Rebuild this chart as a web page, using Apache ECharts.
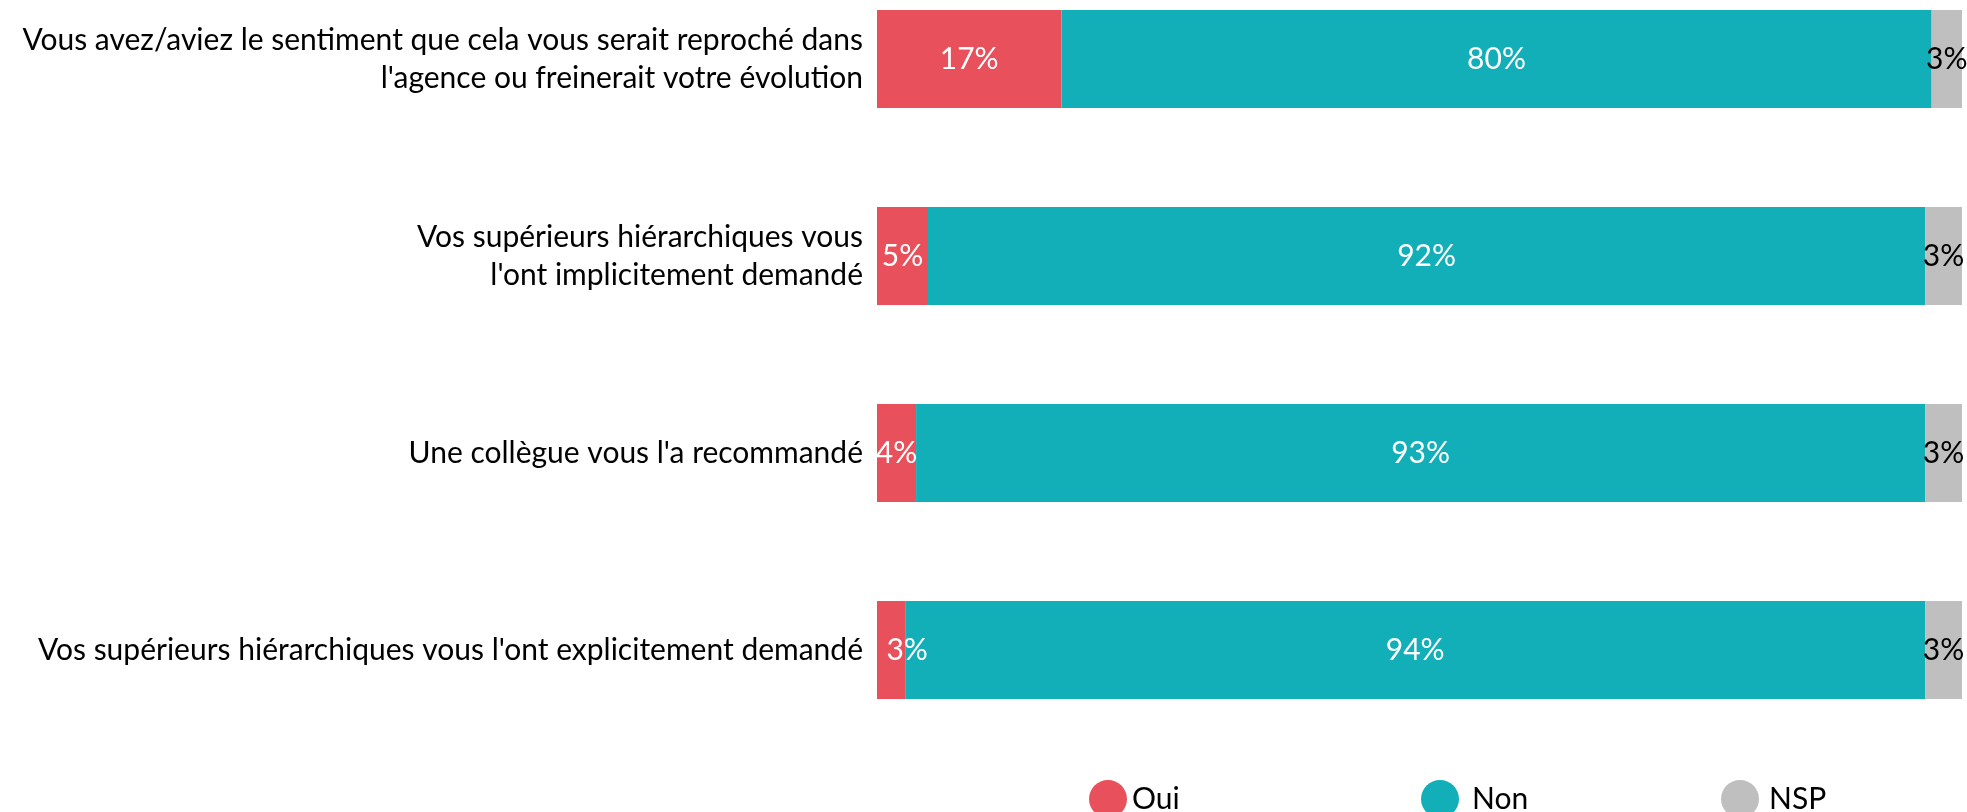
<!DOCTYPE html>
<html>
	<head>
		<meta charset="UTF-8">
		<title>Oui / Non / NSP</title>
		<style>
			html, body { margin: 0; padding: 0; background: #fff; }
			#main { width: 1967px; height: 812px; }
		</style>
	</head>
	<body>
		<div id="main"></div>
		<script src="https://cdn.jsdelivr.net/npm/echarts@6/dist/echarts.min.js"></script>
		<script type="text/javascript">
			// questions (top to bottom)
			var categories = [
				"Vous avez/aviez le sentiment que cela vous serait reproché dans\nl'agence ou freinerait votre évolution",
				"Vos supérieurs hiérarchiques vous\nl'ont implicitement demandé",
				"Une collègue vous l'a recommandé",
				"Vos supérieurs hiérarchiques vous l'ont explicitement demandé"
			];
			// parts in %
			var oui = [17.0, 4.7, 3.6, 2.6];
			var non = [80.2, 91.9, 93.0, 94.0];
			var nsp = [2.8, 3.4, 3.4, 3.4];

			var font = 'Lato';
			var myChart = echarts.init(document.getElementById('main'));

			function makeSerie(name, values, color, labelColor, nudge) {
				return {
					name: name,
					type: 'bar',
					stack: 'total',
					barWidth: 98,
					clip: false,
					itemStyle: { color: color },
					label: {
						show: true,
						position: 'inside',
						color: labelColor,
						fontFamily: font,
						fontSize: 30,
						formatter: function (p) { return Math.round(p.value) + '%'; }
					},
					// tiny red bars: label pushed a bit to the right like in the original
					data: values.map(function (v) {
						if (nudge && v < 3) return { value: v, label: { offset: [16, 0] } };
						return v;
					})
				};
			}

			function makeLegend(name, left, padLeft) {
				return {
					data: [name],
					left: left,
					top: 780,
					padding: 0,
					icon: 'circle',
					itemWidth: 38,
					itemHeight: 38,
					selectedMode: false,
					textStyle: {
						fontFamily: font,
						fontSize: 30,
						color: '#000',
						padding: [0, 0, 10, padLeft]
					}
				};
			}

			var option = {
				animation: false,
				backgroundColor: '#fff',
				legend: [
					makeLegend('Oui', 1089, 0),
					makeLegend('Non', 1421, 8),
					makeLegend('NSP', 1721, 5)
				],
				// bar centres from first (top) to last
				grid: {
					left: 877,
					right: 5,
					top: 59,
					height: 591,
					containLabel: false
				},
				xAxis: {
					type: 'value',
					min: 0,
					max: 100,
					show: false
				},
				yAxis: {
					type: 'category',
					inverse: true,
					boundaryGap: false,
					data: categories,
					axisLine: { show: false },
					axisTick: { show: false },
					splitLine: { show: false },
					axisLabel: {
						margin: 14,
						color: '#000',
						fontFamily: font,
						fontSize: 30,
						lineHeight: 38
					}
				},
				series: [
					makeSerie('Oui', oui, '#E8505B', '#fff', true),
					makeSerie('Non', non, '#13AFB8', '#fff', false),
					makeSerie('NSP', nsp, '#BFBFBF', '#000', false)
				]
			};

			myChart.setOption(option);
		</script>
	</body>
</html>
